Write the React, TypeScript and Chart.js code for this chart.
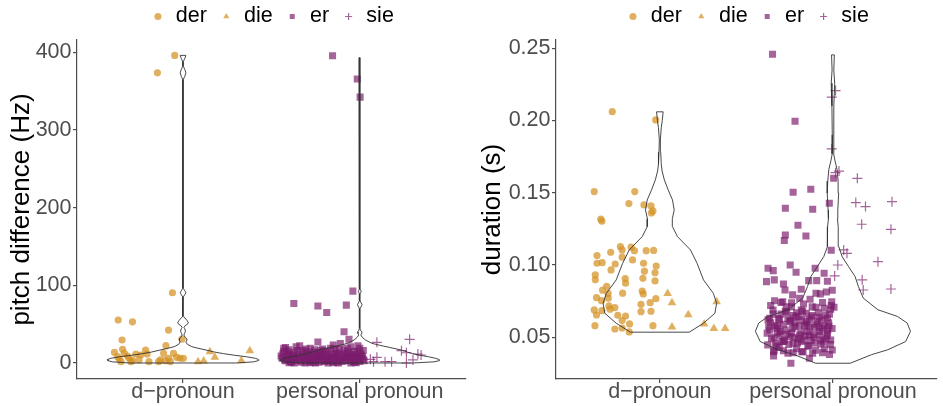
import React, { useEffect, useRef } from 'react';
import { Chart, registerables } from 'chart.js';

Chart.register(...registerables);
Chart.defaults.font.family = "'Liberation Sans', Arial, sans-serif";

// ---------- categories, series, ticks ----------
const categories = ['d\u2212pronoun', 'personal pronoun'];
const seriesNames = ['der', 'die', 'er', 'sie'];
const pitchTicks = [0, 100, 200, 300, 400];
const durationTicks = [0.05, 0.1, 0.15, 0.2, 0.25];
const pitchTitle = 'pitch difference (Hz)';
const durationTitle = 'duration (s)';

// ---------- pitch difference (Hz): [category position incl. jitter, value] ----------
const pitchDer: [number, number][] = [
  [0.953, 396], [0.855, 373.6], [0.94, 90.4], [0.633, 55.3], [0.714, 53], [0.918, 42.4], [0.655, 29.6], [0.903, 22.3], [0.994, 30.8],
  [0.612, 13.7], [0.658, 17.6], [0.668, 12.5], [0.63, 8.1], [0.64, 4.7], [0.695, 6], [0.705, 1.7], [0.733, 11.6], [0.761, 10.3], [0.788, 16.7],
  [0.797, 11.6], [0.751, 3.9], [0.807, 1.7], [0.872, 3.9], [0.89, 12.5], [0.918, 6], [0.928, 1.7], [0.946, 12.5], [0.964, 7.3], [0.983, 6],
  [1.002, 6], [0.686, 9], [0.714, 3], [0.649, 1.7], [0.862, 1.7], [0.9, 3],
];
const pitchDie: [number, number][] = [
  [1.152, 14.5], [1.18, 7.3], [1.085, 1.7], [1.117, 2.6], [1.378, 15.8], [1.33, 3],
];
const pitchEr: [number, number][] = [
  [1.846, 395.5], [1.986, 365.5], [2.002, 342.3], [1.961, 92.5], [1.627, 76.7], [1.763, 73.3], [1.924, 74.5], [1.813, 65.1], [1.911, 40.2], [1.763, 27], [1.939, 30.5],
  [1.58, 20], [1.6, 17], [1.66, 22], [1.72, 19], [1.79, 18], [1.85, 23], [1.89, 25], [1.95, 21], [2.0, 19], [1.99, 14],
  [1.57, 15], [1.63, 13], [1.68, 16], [1.74, 14], [1.77, 12], [1.82, 15], [1.87, 13], [1.91, 16], [1.94, 12], [1.97, 15],
  [1.59, 10], [1.61, 8], [1.65, 11], [1.69, 9], [1.71, 12], [1.75, 9], [1.78, 10], [1.81, 8], [1.84, 11], [1.88, 9], [1.92, 10], [1.96, 8], [2.01, 10],
  [1.56, 6], [1.6, 5], [1.62, 7], [1.66, 6], [1.7, 5], [1.73, 7], [1.76, 6], [1.8, 5], [1.83, 7], [1.86, 6], [1.9, 5], [1.93, 7], [1.98, 6], [2.02, 5],
  [1.58, 3], [1.61, 2], [1.64, 3], [1.67, 1], [1.71, 2], [1.74, 3], [1.77, 1], [1.8, 2], [1.83, 3], [1.87, 1], [1.9, 2], [1.94, 3], [1.97, 1], [2.0, 2],
  [1.63, 0], [1.69, 0], [1.75, 0], [1.82, 0], [1.88, 0], [1.95, 0],
  [1.555, 9], [1.565, 12], [1.575, 4], [1.585, 7], [1.595, 14], [1.605, 11], [1.615, 1], [1.625, 9], [1.635, 5], [1.645, 16],
  [1.655, 8], [1.665, 3], [1.675, 13], [1.685, 6], [1.695, 18], [1.705, 8], [1.715, 4], [1.725, 11], [1.735, 1], [1.745, 17],
  [1.755, 5], [1.765, 13], [1.775, 8], [1.785, 3], [1.795, 11], [1.805, 14], [1.815, 4], [1.825, 9], [1.835, 19], [1.845, 2],
  [1.855, 8], [1.865, 12], [1.875, 4], [1.885, 17], [1.895, 7], [1.905, 12], [1.915, 3], [1.925, 8], [1.935, 14], [1.945, 5],
  [1.955, 10], [1.965, 2], [1.975, 11], [1.985, 7], [1.995, 4], [2.005, 12], [2.015, 8], [2.025, 3],
  [1.57, 19], [1.64, 21], [1.7, 14], [1.78, 16], [1.86, 18], [1.93, 19], [1.99, 22], [2.02, 16], [1.6, 0.5], [1.72, 0.5], [1.85, 0.5], [1.98, 0.5],
];
const pitchSie: [number, number][] = [
  [2.097, 26.6], [2.282, 30.5], [2.236, 15.8], [2.264, 13.2], [2.329, 11.6], [2.06, 4.7], [2.097, 7.3], [2.078, 1.7], [2.143, 1.7], [2.18, 1.7], [2.264, 0], [2.301, 3.9], [2.347, 10.3],
];

// ---------- duration (s) ----------
const durDer: [number, number][] = [
  [0.725, 0.2061], [0.976, 0.2004],
  [0.621, 0.1508], [0.855, 0.1508], [0.821, 0.1425], [0.908, 0.1416], [0.949, 0.1409], [0.96, 0.1374], [0.951, 0.136], [0.659, 0.1317], [0.665, 0.1303],
  [0.772, 0.1127], [0.834, 0.1123], [0.782, 0.1104], [0.853, 0.1099], [0.921, 0.1099], [0.964, 0.1101], [0.716, 0.1088], [0.637, 0.1065], [0.782, 0.1054], [0.842, 0.1035],
  [0.637, 0.1012], [0.667, 0.1016], [0.742, 0.1007], [0.906, 0.1012], [0.979, 0.0993], [0.718, 0.0966], [0.911, 0.0957], [0.972, 0.0947], [0.627, 0.0931], [0.627, 0.0897],
  [0.8, 0.0906], [0.802, 0.0874], [0.902, 0.0908], [0.972, 0.089], [0.693, 0.0852], [0.669, 0.0826], [0.701, 0.0803], [0.785, 0.0805], [0.898, 0.082], [0.904, 0.08],
  [0.634, 0.0774], [0.663, 0.0753], [0.702, 0.077], [0.977, 0.0767], [0.944, 0.0739], [0.891, 0.0728], [0.706, 0.0717], [0.74, 0.0705], [0.621, 0.0689], [0.665, 0.0684],
  [0.712, 0.0694], [0.891, 0.0677], [0.949, 0.068], [0.634, 0.0654], [0.757, 0.0652], [0.802, 0.0647], [0.782, 0.0615], [0.825, 0.0592], [0.625, 0.058], [0.74, 0.0557],
  [0.782, 0.0564], [0.823, 0.0537], [0.96, 0.058],
];
const durDie: [number, number][] = [
  [1.045, 0.0803], [1.07, 0.0739], [1.164, 0.0656], [1.328, 0.0746], [1.07, 0.0571], [1.256, 0.0592], [1.312, 0.056], [1.377, 0.056],
];
const durEr: [number, number][] = [
  [1.651, 0.2458], [1.781, 0.1995], [2.004, 0.16], [1.872, 0.1524], [1.77, 0.1503], [1.725, 0.1393], [1.883, 0.1386], [1.979, 0.1427], [1.798, 0.1275],
  [1.725, 0.1208], [1.719, 0.1169], [1.844, 0.1201], [1.99, 0.1102], [1.753, 0.1], [1.625, 0.0977], [1.655, 0.0961], [1.787, 0.095], [1.897, 0.0977],
  [1.616, 0.0885], [1.661, 0.0897], [1.714, 0.0869], [1.723, 0.0827], [1.86, 0.0892], [1.906, 0.0892], [1.949, 0.0943], [1.968, 0.0888], [1.996, 0.0825],
  [1.767, 0.0793], [1.817, 0.0832], [1.902, 0.0804], [1.927, 0.08], [1.962, 0.0813], [1.663, 0.0753], [1.71, 0.0746], [1.761, 0.0739], [1.808, 0.077],
  [1.868, 0.0763], [1.993, 0.0746], [2.006, 0.0708], [1.654, 0.0689], [1.733, 0.0677], [1.817, 0.0689], [1.846, 0.0666], [1.902, 0.0708], [1.949, 0.0701],
  [1.987, 0.0694], [1.634, 0.0631], [1.691, 0.062], [1.751, 0.0613], [1.804, 0.0643], [1.864, 0.062], [1.921, 0.0638], [1.968, 0.0631], [1.629, 0.0573],
  [1.676, 0.0562], [1.723, 0.055], [1.78, 0.0573], [1.836, 0.0578], [1.893, 0.0569], [1.94, 0.0562], [1.977, 0.0578], [1.62, 0.0528], [1.695, 0.0516],
  [1.751, 0.0504], [1.808, 0.0516], [1.864, 0.0516], [1.921, 0.0516], [1.968, 0.0528], [1.623, 0.0447], [1.667, 0.0459], [1.714, 0.047], [1.77, 0.0459],
  [1.817, 0.047], [1.874, 0.0477], [1.931, 0.0454], [1.987, 0.0481], [1.657, 0.04], [1.714, 0.0407], [1.77, 0.0393], [1.827, 0.04], [1.883, 0.0389],
  [1.94, 0.0393], [1.996, 0.0412], [1.757, 0.032], [1.657, 0.0371], [1.864, 0.0355],
  [1.64, 0.06], [1.68, 0.058], [1.7, 0.066], [1.74, 0.063], [1.78, 0.06], [1.79, 0.067], [1.82, 0.062], [1.85, 0.059], [1.88, 0.065], [1.91, 0.061],
  [1.95, 0.058], [1.98, 0.066], [1.66, 0.05], [1.72, 0.048], [1.76, 0.053], [1.8, 0.049], [1.85, 0.054], [1.89, 0.05], [1.93, 0.048], [1.97, 0.055],
  [1.69, 0.043], [1.79, 0.042], [1.86, 0.044], [1.95, 0.042], [1.73, 0.071],
  [1.625, 0.062], [1.635, 0.055], [1.645, 0.049], [1.655, 0.066], [1.665, 0.058], [1.675, 0.044], [1.685, 0.063], [1.695, 0.054], [1.705, 0.047], [1.715, 0.059],
  [1.725, 0.068], [1.735, 0.052], [1.745, 0.045], [1.755, 0.061], [1.765, 0.056], [1.775, 0.05], [1.785, 0.064], [1.795, 0.046], [1.805, 0.058], [1.815, 0.053],
  [1.825, 0.068], [1.835, 0.048], [1.845, 0.061], [1.855, 0.044], [1.865, 0.057], [1.875, 0.064], [1.885, 0.052], [1.895, 0.046], [1.905, 0.059], [1.915, 0.067],
  [1.925, 0.054], [1.935, 0.062], [1.945, 0.047], [1.955, 0.065], [1.965, 0.051], [1.975, 0.06], [1.985, 0.045], [1.995, 0.056],
  [1.64, 0.072], [1.7, 0.074], [1.76, 0.071], [1.83, 0.073], [1.88, 0.071], [1.94, 0.074], [1.99, 0.072],
  [1.66, 0.041], [1.74, 0.039], [1.82, 0.04], [1.9, 0.041], [1.98, 0.038],
  [1.68, 0.053], [1.77, 0.065], [1.84, 0.051], [1.92, 0.057], [1.96, 0.049],
];
const durSie: [number, number][] = [
  [2.015, 0.2207], [1.993, 0.2161], [1.993, 0.1803], [2.015, 0.1639], [2.035, 0.165], [2.141, 0.16], [2.132, 0.1432], [2.188, 0.1404], [2.341, 0.1438],
  [2.166, 0.1282], [2.335, 0.1247], [2.062, 0.1104], [2.081, 0.1081], [2.26, 0.1023], [2.028, 0.1], [2.01, 0.0924], [2.169, 0.0897], [2.175, 0.0827], [2.335, 0.0834],
];

// ---------- violin outlines: value levels and half-widths (density) ----------
const pitchViolinDY = [0, 1.5, 3, 4.5, 6, 8, 10, 12, 14, 16.7, 19, 21, 24, 27, 29, 31, 33, 36, 38, 41, 44, 46, 48, 50, 52, 55, 58, 60, 63, 85, 88, 90.5, 93, 96, 365, 369, 373.6, 378, 382, 388, 392, 396];
const pitchViolinDW = [0.3, 0.4, 0.425, 0.428, 0.41, 0.36, 0.29, 0.23, 0.18, 0.13, 0.085, 0.05, 0.025, 0.016, 0.02, 0.022, 0.012, 0.005, 0.008, 0.014, 0.01, 0.005, 0.012, 0.025, 0.03, 0.022, 0.01, 0.003, 0.0015, 0.0015, 0.01, 0.016, 0.01, 0.0015, 0.0015, 0.01, 0.016, 0.01, 0.0015, 0.0015, 0.01, 0.016];
const pitchViolinPY = [0, 1.5, 3, 4.3, 6, 8, 10, 12, 14, 16.7, 20, 23, 25.3, 29.6, 33, 36, 38, 40, 42, 45, 70, 75, 80, 89, 92, 95, 340, 343, 346, 365, 368, 371, 390, 393];
const pitchViolinPW = [0.3, 0.42, 0.45, 0.451, 0.43, 0.39, 0.34, 0.3, 0.27, 0.235, 0.17, 0.11, 0.069, 0.032, 0.015, 0.006, 0.01, 0.012, 0.006, 0.002, 0.002, 0.013, 0.002, 0.002, 0.008, 0.002, 0.0015, 0.004, 0.0015, 0.0015, 0.004, 0.0015, 0.0015, 0.004];
const durViolinDY = [0.0535, 0.0597, 0.0666, 0.0735, 0.0804, 0.0897, 0.1012, 0.1104, 0.1196, 0.1265, 0.132, 0.138, 0.145, 0.152, 0.1589, 0.165, 0.17, 0.178, 0.1865, 0.195, 0.2, 0.206];
const durViolinDW = [0.17, 0.252, 0.318, 0.328, 0.309, 0.252, 0.215, 0.177, 0.102, 0.073, 0.072, 0.083, 0.073, 0.048, 0.026, 0.013, 0.008, 0.005, 0.003, 0.008, 0.014, 0.019];
const durViolinPY = [0.032, 0.0379, 0.0413, 0.047, 0.0541, 0.0598, 0.0644, 0.069, 0.0771, 0.0851, 0.092, 0.0989, 0.1058, 0.1127, 0.12, 0.1265, 0.132, 0.138, 0.1497, 0.158, 0.166, 0.172, 0.177, 0.19, 0.21, 0.2258, 0.235, 0.2454];
const durViolinPW = [0.1, 0.222, 0.316, 0.42, 0.448, 0.429, 0.373, 0.26, 0.175, 0.147, 0.128, 0.09, 0.053, 0.034, 0.03, 0.031, 0.026, 0.028, 0.033, 0.03, 0.024, 0.012, 0.004, 0.004, 0.006, 0.01, 0.005, 0.008];

// ---------- styles ----------
const GOLD = 'rgba(212,145,35,0.72)';
const PURPLE = 'rgba(123,28,107,0.68)';
const AXIS = '#4d4d4d';
const FONT = "'Liberation Sans', Arial, sans-serif";

const toPts = (arr: [number, number][]) => arr.map(([x, y]) => ({ x, y }));

function violin(center: number, ys: number[], ws: number[]) {
  const right = ys.map((y, i) => ({ x: center + ws[i], y }));
  const left = ys.map((y, i) => ({ x: center - ws[i], y })).reverse();
  return [...right, ...left, right[0]];
}

function pointSet(label: string, data: [number, number][], style: string, color: string, r: number) {
  const isCross = style === 'cross';
  return {
    label,
    data: toPts(data),
    pointStyle: style,
    pointRadius: r,
    backgroundColor: isCross ? 'rgba(0,0,0,0)' : color,
    borderColor: color,
    borderWidth: isCross ? 1.2 : 0,
    showLine: false,
    order: 1,
  };
}

function violinSet(center: number, ys: number[], ws: number[]) {
  return {
    label: '',
    data: violin(center, ys, ws),
    showLine: true,
    pointRadius: 0,
    borderColor: '#333333',
    borderWidth: 0.9,
    backgroundColor: 'rgba(0,0,0,0)',
    fill: false,
    tension: 0,
    order: 0,
  };
}

function legendPlugin(dx: number, dy: number) {
  return {
    id: 'legendPlacement',
    beforeInit(chart: any) {
      const legend = chart.legend;
      if (!legend) return;
      const fit = legend.fit;
      legend.fit = function () {
        fit.call(this);
        this.height = 40;
      };
      const draw = legend.draw;
      legend.draw = function (...args: any[]) {
        const c = this.ctx;
        c.save();
        c.translate(dx, dy);
        draw.apply(this, args);
        c.restore();
      };
    },
  };
}

interface PanelSpec {
  series: [number, number][][];
  violins: [number[], number[]][];
  yMin: number;
  yMax: number;
  yTicks: number[];
  yFmt: (v: number) => string;
  yTitle: string;
  yWidth: number;
  titlePad: number;
  legendDx: number;
}

function buildChart(canvas: HTMLCanvasElement, p: PanelSpec) {
  const styles = ['circle', 'triangle', 'rect', 'cross'];
  const colors = [GOLD, GOLD, PURPLE, PURPLE];
  const radii = [3.6, 5, 5, 5];
  const datasets: any[] = p.series.map((s, i) => pointSet(seriesNames[i], s, styles[i], colors[i], radii[i]));
  p.violins.forEach(([ys, ws], i) => datasets.push(violinSet(i + 1, ys, ws)));

  return new Chart(canvas, {
    type: 'scatter',
    data: { datasets },
    options: {
      animation: false,
      responsive: false,
      events: [],
      layout: { padding: 0 },
      plugins: {
        tooltip: { enabled: false },
        legend: {
          display: true,
          position: 'top',
          fullSize: false,
          align: 'center',
          labels: {
            usePointStyle: true,
            boxWidth: 14,
            boxHeight: 5,
            padding: 12.5,
            color: '#000000',
            font: { family: FONT, size: 21.5 },
            filter: (item: any) => item.datasetIndex < 4,
          },
        },
      },
      scales: {
        x: {
          type: 'linear',
          min: 0.4,
          max: 2.6,
          afterBuildTicks: (s: any) => {
            s.ticks = categories.map((_, i) => ({ value: i + 1 }));
          },
          afterFit: (s: any) => {
            s.height = 27;
          },
          ticks: {
            callback: (v: any) => categories[Math.round(Number(v)) - 1],
            color: AXIS,
            font: { family: FONT, size: 21.5, lineHeight: 1.0 },
            padding: -2,
            maxRotation: 0,
            autoSkip: false,
          },
          grid: { display: true, drawOnChartArea: false, drawTicks: true, tickLength: 4, color: AXIS, lineWidth: 1.2 },
          border: { display: true, color: AXIS, width: 1.2 },
        },
        y: {
          type: 'linear',
          min: p.yMin,
          max: p.yMax,
          afterBuildTicks: (s: any) => {
            s.ticks = p.yTicks.map((v) => ({ value: v }));
          },
          afterFit: (s: any) => {
            s.width = p.yWidth;
          },
          ticks: {
            callback: (v: any) => p.yFmt(Number(v)),
            color: AXIS,
            font: { family: FONT, size: 21.5 },
            padding: 1.5,
          },
          grid: { display: true, drawOnChartArea: false, drawTicks: true, tickLength: 4, color: AXIS, lineWidth: 1.2 },
          border: { display: true, color: AXIS, width: 1.2 },
          title: {
            display: true,
            text: p.yTitle,
            color: '#000000',
            font: { family: FONT, size: 26 },
            padding: { top: p.titlePad, bottom: 0 },
          },
        },
      },
    } as any,
    plugins: [legendPlugin(p.legendDx, -6.75)],
  });
}

const pitchPanel: PanelSpec = {
  series: [pitchDer, pitchDie, pitchEr, pitchSie],
  violins: [
    [pitchViolinDY, pitchViolinDW],
    [pitchViolinPY, pitchViolinPW],
  ],
  yMin: -20.6,
  yMax: 415.8,
  yTicks: pitchTicks,
  yFmt: (v) => String(Math.round(v)),
  yTitle: pitchTitle,
  yWidth: 77,
  titlePad: 6.4,
  legendDx: 1,
};

const durationPanel: PanelSpec = {
  series: [durDer, durDie, durEr, durSie],
  violins: [
    [durViolinDY, durViolinDW],
    [durViolinPY, durViolinPW],
  ],
  yMin: 0.0211,
  yMax: 0.2557,
  yTicks: durationTicks,
  yFmt: (v) => v.toFixed(2),
  yTitle: durationTitle,
  yWidth: 84,
  titlePad: 5.1,
  legendDx: 1,
};

function Panel({ left, width, spec }: { left: number; width: number; spec: PanelSpec }) {
  const ref = useRef<HTMLCanvasElement | null>(null);
  useEffect(() => {
    if (!ref.current) return;
    const chart = buildChart(ref.current, spec);
    return () => chart.destroy();
  }, []);
  return (
    <canvas
      ref={ref}
      width={width}
      height={406}
      style={{ position: 'absolute', left, top: 0, width, height: 406 }}
    />
  );
}

export default function App() {
  return (
    <div style={{ position: 'absolute', left: 0, top: 0, width: 943, height: 406, background: '#ffffff', overflow: 'hidden' }}>
      <Panel left={0} width={472} spec={pitchPanel} />
      <Panel left={472} width={471} spec={durationPanel} />
    </div>
  );
}
